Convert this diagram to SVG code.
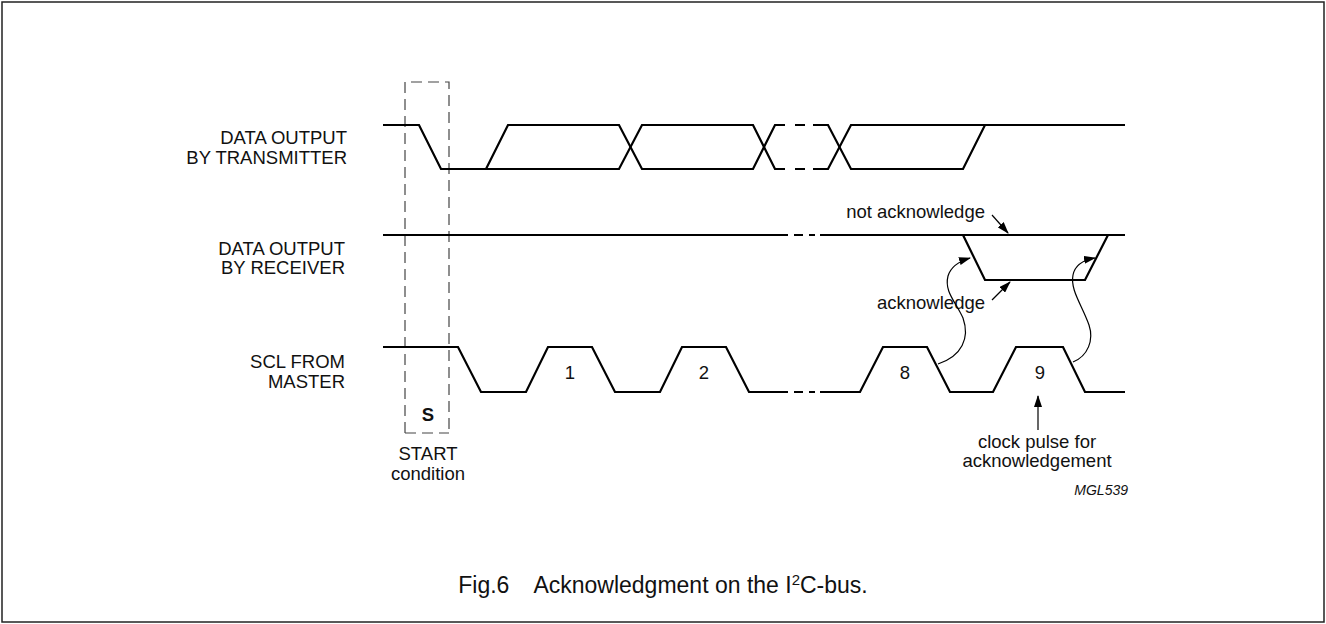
<svg xmlns="http://www.w3.org/2000/svg" width="1326" height="624" viewBox="0 0 1326 624">
<style>
text{font-family:"Liberation Sans",Arial,sans-serif;fill:#111}
.t{font-size:18.5px}
.cap{font-size:23px}
.sup{font-size:15px}
.id{font-size:14px;font-style:italic}
.w{fill:none;stroke:#000;stroke-width:2.2;stroke-linejoin:miter}
.box{fill:none;stroke:#444;stroke-width:1.2;stroke-dasharray:11 6}
.arr{fill:none;stroke:#000;stroke-width:1.2}
</style>
<defs>
<marker id="ah" viewBox="0 0 12 8" refX="11" refY="4" markerWidth="12" markerHeight="8" markerUnits="userSpaceOnUse" orient="auto">
<path d="M0,0 L12,4 L0,8 Z" fill="#000"/>
</marker>
</defs>
<rect x="2" y="2" width="1322" height="620" fill="#fff" stroke="#222" stroke-width="1.5"/>
<g id="start-box">
<path class="box" d="M405,433 V82 H449 V433"/>
<path class="box" d="M405,433 H449" stroke-dasharray="8 6"/>
<text class="t" x="428" y="421" text-anchor="middle" font-weight="bold">S</text>
<text class="t" x="428" y="460" text-anchor="middle">START</text>
<text class="t" x="428" y="480" text-anchor="middle">condition</text>
</g>
<g id="transmitter">
<text class="t" x="347" y="144" text-anchor="end">DATA OUTPUT</text>
<text class="t" x="347" y="164" text-anchor="end">BY TRANSMITTER</text>
<path class="w" d="M383,125 H419 L441,169 H619 L642,125 H753 L775,169 H785"/>
<path class="w" d="M486,169 L508,125 H619 L642,169 H753 L775,125 H785"/>
<path class="w" d="M795,125 H805 M813,125 H828 L851,169 H963 L985,125 H1125"/>
<path class="w" d="M795,169 H805 M813,169 H828 L851,125 H985"/>
</g>
<g id="receiver">
<text class="t" x="345" y="255" text-anchor="end">DATA OUTPUT</text>
<text class="t" x="345" y="274" text-anchor="end">BY RECEIVER</text>
<path class="w" d="M383,235 H788 M794,235 H803 M809,235 H815 M820,235 H1125"/>
<path class="w" d="M963,235 L985,280 H1085 L1108,235"/>
</g>
<g id="scl">
<text class="t" x="345" y="368" text-anchor="end">SCL FROM</text>
<text class="t" x="345" y="388" text-anchor="end">MASTER</text>
<path class="w" d="M383,347 H458 L481,392 H526 L548,347 H592 L615,392 H660 L682,347 H726 L749,392 H788 M794,392 H803 M809,392 H815 M820,392 H860 L883,347 H927 L950,392 H993 L1016,347 H1063 L1085,392 H1125"/>
<text class="t" x="570" y="379" text-anchor="middle">1</text>
<text class="t" x="704" y="379" text-anchor="middle">2</text>
<text class="t" x="905" y="379" text-anchor="middle">8</text>
<text class="t" x="1040" y="379" text-anchor="middle">9</text>
</g>
<g id="labels">
<text class="t" x="985" y="218" text-anchor="end">not acknowledge</text>
<text class="t" x="985" y="309" text-anchor="end">acknowledge</text>
<text class="t" x="1037" y="448" text-anchor="middle">clock pulse for</text>
<text class="t" x="1037" y="467" text-anchor="middle">acknowledgement</text>
<text class="id" x="1128" y="495" text-anchor="end">MGL539</text>
<text class="cap" x="663" y="593" text-anchor="middle">Fig.6<tspan dx="24">Acknowledgment on the I</tspan><tspan class="sup" dy="-8">2</tspan><tspan dy="8">C-bus.</tspan></text>
</g>
<g id="connectors">
<path class="arr" d="M992,215 L1008,233" marker-end="url(#ah)"/>
<path class="arr" d="M992,300 L1010,282" marker-end="url(#ah)"/>
<path class="arr" d="M1038,430 V396" marker-end="url(#ah)"/>
<path class="arr" d="M938,364 C962,356 970,338 963,318 C956,302 944,292 948,276 C951,266 960,261 970,258" marker-end="url(#ah)"/>
<path class="arr" d="M1073,362 C1088,356 1094,340 1089,325 C1082,305 1070,290 1073,275 C1075,265 1083,260 1095,258" marker-end="url(#ah)"/>
</g>
</svg>
